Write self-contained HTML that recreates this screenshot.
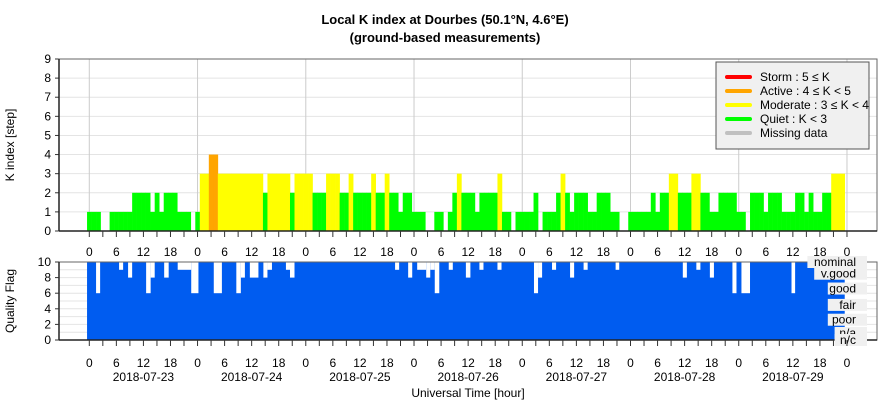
<!DOCTYPE html>
<html><head><meta charset="utf-8"><style>
body{margin:0;background:#fff;}
svg{display:block;font-family:"Liberation Sans",sans-serif;}
</style></head><body>
<svg id="chart" width="886" height="400" viewBox="0 0 886 400">
<text x="445" y="24" text-anchor="middle" font-size="13" font-weight="bold">Local K index at Dourbes (50.1°N, 4.6°E)</text>
<text x="445" y="42" text-anchor="middle" font-size="13" font-weight="bold">(ground-based measurements)</text>
<text transform="translate(14,145) rotate(-90)" text-anchor="middle" font-size="12">K index [step]</text>
<text transform="translate(14,301) rotate(-90)" text-anchor="middle" font-size="12">Quality Flag</text>
<text x="468" y="397" text-anchor="middle" font-size="12">Universal Time [hour]</text>
<g id="topPanel"></g>
<g id="botPanel"></g>
<g id="legend"></g>
</svg>
<script>
const kValues=[
1,1,1,0,0,1,1,1,1,1,2,2,2,2,1,2,1,2,2,2,1,1,1,0,
1,3,3,4,4,3,3,3,3,3,3,3,3,3,3,2,3,3,3,3,3,2,3,3,
3,3,2,2,2,3,3,3,2,2,3,2,2,2,2,3,2,2,3,2,2,1,2,2,
1,1,1,0,0,1,1,0,1,2,3,2,2,2,1,2,2,2,2,3,1,1,0,1,
1,1,1,2,0,1,1,1,2,3,2,1,2,2,2,1,1,2,2,2,1,1,0,0,
1,1,1,1,1,2,1,2,2,3,3,2,2,2,3,3,2,2,1,1,2,2,2,2,
1,1,0,2,2,2,1,2,2,2,1,1,1,2,2,1,2,1,1,2,2,3,3,3];
const dates=["2018-07-23","2018-07-24","2018-07-25","2018-07-26","2018-07-27","2018-07-28","2018-07-29"];
const hourLabels=["0","6","12","18"];
const kTicks=[0,1,2,3,4,5,6,7,8,9];
const qTicks=[0,2,4,6,8,10];
const qStart=[2.0,7.1,9.1,13.1,14.1,17.1,20.1,23.1,28.1,33.1,34.1,36.1,39.1,40,44.1,45,68.3,71.2,73.2,75.2,76.1,77.1,80.2,84,87,91,99.1,100,103.1,107.1,110.1,117.2,132.1,135.1,138.1,143.1,145.1,156.2];
const qEnd=  [2.9,8.0,10,14.1,15.0,18.1,23.1,24.7,29.9,34.1,35,38,40,41,45,46,69.2,72.1,75.2,76.1,77.1,78.1,81.1,85,87.9,91.9,100,100.9,104,108,111,118,133,136,139,144,147,157];
const qVal=  [6,9,8,6,8,8,9,6,6,6,8,8,8,9,9,8,9,8,9,8,9,6,9,8,9,9,6,8,9,8,9,9,8,9,8,6,6,6];
const qLabels=["nominal","v.good","good","fair","poor","n/a","n/c"];
const qLabelPos=[10,8.5,6.6,4.5,2.6,0.9,0];

const NS="http://www.w3.org/2000/svg";
const L=59,R=877,T1=59,B1=231,T2=262,B2=340;
const xh=h=>89.3+4.51*h;
const yk=k=>B1-(B1-T1)*k/9;
const yq=q=>B2-(B2-T2)*q/10;
function mk(p,tag,a){const e=document.createElementNS(NS,tag);for(const k in a)e.setAttribute(k,a[k]);p.appendChild(e);return e;}
const topG=document.getElementById('topPanel'),botG=document.getElementById('botPanel'),leg=document.getElementById('legend');
function col(k){return k>=5?'#ff0000':k>=4?'#ffa500':k>=3?'#ffff00':'#00ff00';}

mk(topG,'rect',{x:L,y:T1,width:R-L,height:B1-T1,fill:'#fff',stroke:'none'});
kTicks.forEach(k=>{
 const y=yk(k);
 const g=mk(topG,'line',{x1:L,x2:R,y1:y,y2:y,stroke:'#e4e4e4','stroke-width':1});
 
 
 mk(topG,'line',{x1:L-4,x2:L,y1:y,y2:y,stroke:'#333'});
 const t=mk(topG,'text',{x:L-8,y:y+4,'text-anchor':'end','font-size':12});
 t.textContent=k;
 
 
});
for(let d=0;d<=7;d++){mk(topG,'line',{x1:xh(d*24),x2:xh(d*24),y1:T1,y2:B1,stroke:'#cccccc'});}
kValues.forEach((k,h)=>{
 if(k<=0)return;
 const r=mk(topG,'rect',{x:xh(h-0.5),y:yk(k),width:xh(h+0.5)-xh(h-0.5)+0.3,height:B1-yk(k),fill:col(k)});
 
 
});
mk(topG,'rect',{x:L,y:T1,width:R-L,height:B1-T1,fill:'none',stroke:'#666'});
mk(topG,'line',{x1:L,x2:L,y1:T1,y2:B1,stroke:'#222','stroke-width':1.5});
mk(topG,'line',{x1:L,x2:R,y1:B1,y2:B1,stroke:'#222','stroke-width':1.5});

function xAxis(p,yb,ly){
 for(let h=0;h<=168;h+=3){mk(p,'line',{x1:xh(h),x2:xh(h),y1:yb,y2:yb+6,stroke:'#333'});}
 for(let h=0;h<=168;h+=6){
  const t=mk(p,'text',{x:xh(h),y:ly,'text-anchor':'middle','font-size':12});
  t.textContent=hourLabels[(h/6)%4];
  
  
 }
}
xAxis(topG,B1,256);

mk(botG,'rect',{x:L,y:T2,width:R-L,height:B2-T2,fill:'#fff'});
for(let q=1;q<10;q++){mk(botG,'line',{x1:L,x2:R,y1:yq(q),y2:yq(q),stroke:'#e4e4e4'});}
const qa=mk(botG,'rect',{x:xh(-0.5),y:yq(10),width:xh(167.5)-xh(-0.5),height:yq(0)-yq(10),fill:'#005cf0'});


qStart.forEach((s,i)=>{
 const r=mk(botG,'rect',{x:xh(s-0.5),y:yq(10),width:xh(qEnd[i]-0.5)-xh(s-0.5),height:yq(qVal[i])-yq(10),fill:'#fff'});
 
 
});
mk(botG,'rect',{x:L,y:T2,width:R-L,height:B2-T2,fill:'none',stroke:'#666'});
mk(botG,'line',{x1:L,x2:L,y1:T2,y2:B2,stroke:'#222','stroke-width':1.5});
mk(botG,'line',{x1:L,x2:R,y1:B2,y2:B2,stroke:'#222','stroke-width':1.5});
qTicks.forEach(q=>{
 const y=yq(q);
 mk(botG,'line',{x1:L-4,x2:L,y1:y,y2:y,stroke:'#333'});
 const t=mk(botG,'text',{x:L-8,y:y+4,'text-anchor':'end','font-size':12});
 t.textContent=q;
 
 
});
qLabels.forEach((s,i)=>{
 const y=yq(qLabelPos[i]);
 const w=s.length*6.8+2;
 mk(botG,'rect',{x:857-w,y:y-6,width:w+10,height:12,fill:'#f0f0f0'});
 const t=mk(botG,'text',{x:856,y:y+4,'text-anchor':'end','font-size':12});
 t.textContent=s;
 
 
});
xAxis(botG,B2,367);
dates.forEach((d,i)=>{
 const t=mk(botG,'text',{x:xh(i*24+12),y:381,'text-anchor':'middle','font-size':12});
 t.textContent=d;
 
 
});

const legNames=["Storm : 5 ≤ K","Active : 4 ≤ K < 5","Moderate : 3 ≤ K < 4","Quiet : K < 3","Missing data"];
const legCols=["#ff0000","#ffa500","#ffff00","#00ff00","#c0c0c0"];
mk(leg,'rect',{x:716,y:62,width:153,height:87,fill:'#f0f0f0',stroke:'#555'});
legNames.forEach((n,i)=>{
 const y=77+i*14;
 mk(leg,'line',{x1:727,x2:750,y1:y,y2:y,stroke:legCols[i],'stroke-width':4,'stroke-linecap':'round'});
 const t=mk(leg,'text',{x:760,y:y+4,'font-size':12});
 t.textContent=n;
 
 
});
</script>
</body></html>
